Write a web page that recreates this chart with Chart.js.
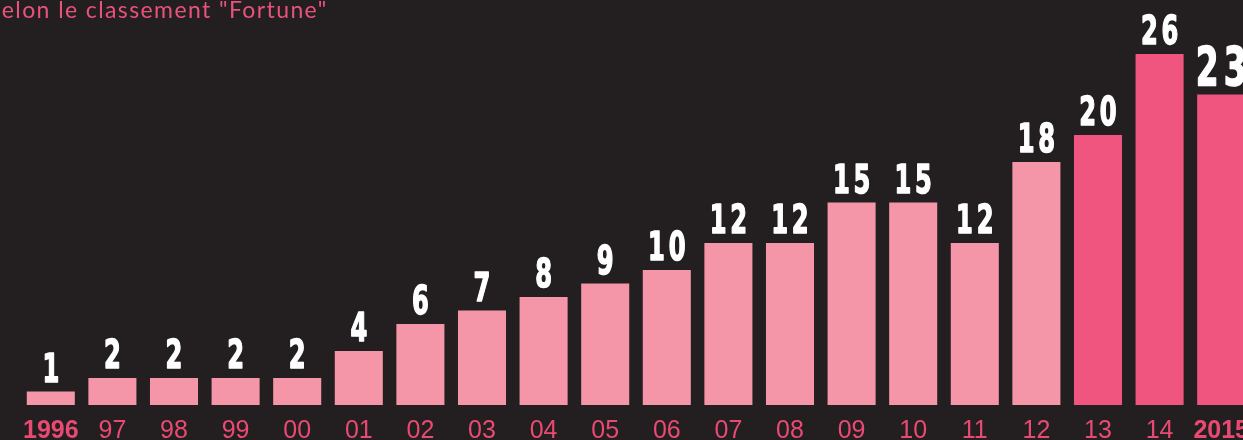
<!DOCTYPE html>
<html>
<head>
<meta charset="utf-8">
<script src="https://cdn.jsdelivr.net/npm/chart.js@4"></script>
<style>
  html, body { margin: 0; padding: 0; background: #231f20; overflow: hidden; }
  #wrap { position: relative; width: 1243px; height: 440px; overflow: hidden; background: #231f20; }
  #box { position: absolute; left: 0; top: 0; width: 1263px; height: 458px; }
  #title {
    position: absolute; left: -12px; top: -2px; white-space: nowrap;
    font-family: Lato, "Open Sans", sans-serif; font-size: 23px; line-height: 1;
    letter-spacing: 1.4px; color: #e9527a;
  }
</style>
</head>
<body>
<div id="wrap">
  <div id="box"><canvas id="chart" width="1263" height="458"></canvas></div>
  <div id="title">Selon le classement "Fortune"</div>
</div>
<script>
// Nombre d'entreprises par année
const years = ['1996', '97', '98', '99', '00', '01', '02', '03', '04', '05',
  '06', '07', '08', '09', '10', '11', '12', '13', '14', '2015'];
const counts = [1, 2, 2, 2, 2, 4, 6, 7, 8, 9, 10, 12, 12, 15, 15, 12, 18, 20, 26, 23];

const lightPink = '#f595a8';
const darkPink = '#f05580';
const tickPink = '#ea4a72';

// value labels above each bar, squeezed horizontally to look condensed
const valueLabels = {
  id: 'valueLabels',
  afterDatasetsDraw(chart) {
    const ctx = chart.ctx;
    const meta = chart.getDatasetMeta(0);
    const squeeze = 0.62;
    ctx.save();
    ctx.fillStyle = '#ffffff';
    ctx.strokeStyle = '#ffffff';
    ctx.lineWidth = 1.6;
    ctx.lineJoin = 'round';
    ctx.textAlign = 'center';
    ctx.textBaseline = 'alphabetic';
    meta.data.forEach((bar, i) => {
      const last = i === counts.length - 1;
      const size = last ? 53 : 39;
      const spacing = last ? 8 : 6;
      ctx.save();
      ctx.translate(bar.x, bar.y - 10);
      ctx.scale(squeeze, 1);
      ctx.font = 'bold ' + size + 'px "DejaVu Sans", sans-serif';
      ctx.letterSpacing = spacing + 'px';
      ctx.fillText(String(counts[i]), spacing / 2, 0);
      ctx.strokeText(String(counts[i]), spacing / 2, 0);
      ctx.restore();
    });
    ctx.restore();
  }
};

new Chart(document.getElementById('chart'), {
  type: 'bar',
  data: {
    labels: years,
    datasets: [{
      data: counts,
      backgroundColor: counts.map((v, i) => i >= 17 ? darkPink : lightPink),
      borderWidth: 0,
      barPercentage: 0.78,
      categoryPercentage: 1
    }]
  },
  options: {
    responsive: false,
    animation: false,
    devicePixelRatio: 1,
    layout: { padding: { left: 20, right: 0, top: 0, bottom: 0 } },
    plugins: {
      legend: { display: false },
      tooltip: { enabled: false }
    },
    scales: {
      x: {
        grid: { display: false, drawTicks: false },
        border: { display: false },
        ticks: {
          color: tickPink,
          padding: 14,
          maxRotation: 0,
          autoSkip: false,
          font: (c) => ({
            family: '"Liberation Sans", Arial, sans-serif',
            size: 25,
            lineHeight: 1,
            weight: (c.index === 0 || c.index === years.length - 1) ? 'bold' : 'normal'
          })
        }
      },
      y: {
        display: false,
        min: 0,
        max: 30
      }
    }
  },
  plugins: [valueLabels]
});
</script>
</body>
</html>
